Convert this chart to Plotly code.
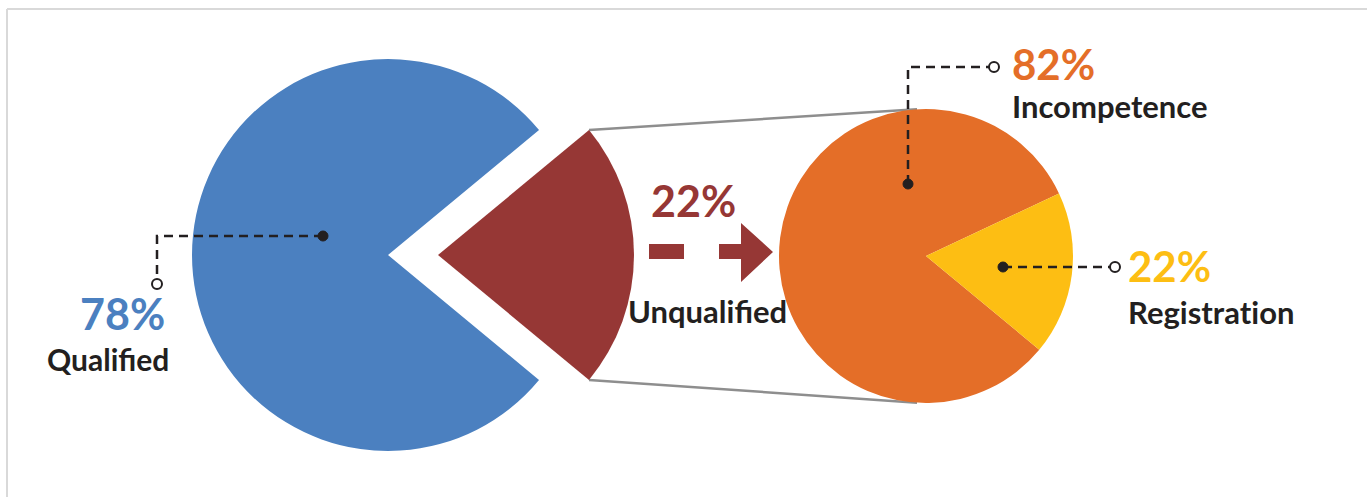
import math
import plotly.graph_objects as go

# ---------------- data ----------------
main_labels = ["Qualified", "Unqualified"]
main_values = [78, 22]
main_texts = ["78%", "22%"]

sub_labels = ["Incompetence", "Registration"]
sub_values = [82, 18]
sub_texts = ["82%", "22%"]

# ---------------- style ----------------
W, H = 1367, 497
BLUE = "#4B80C0"
RED = "#963735"
ORANGE = "#E46E28"
YELLOW = "#FDBE13"
DARK = "#231F20"
GRAY = "#8E8E8E"
FONT = "Lato"

LC = (388, 255)      # main pie centre (px)
R1 = 196
EXPLODE = 50
RC = (926, 256)      # sub pie centre (px)
R2 = 147


def dom(cx, cy, r):
    return dict(x=[(cx - r) / W, (cx + r) / W],
                y=[(H - cy - r) / H, (H - cy + r) / H])


tot = sum(main_values)
half = main_values[1] / tot * 360 / 2          # half-angle of exploded slice
rot_main = (90 - (360 - half)) % 360            # slice 2 centred at 3 o'clock
rot_sub = rot_main

fig = go.Figure()

fig.add_trace(go.Pie(values=main_values, labels=main_labels, sort=False,
                     direction="clockwise", rotation=rot_main,
                     marker=dict(colors=[BLUE, "rgba(0,0,0,0)"], line=dict(width=0)),
                     textinfo="none", hoverinfo="label+percent", showlegend=False,
                     domain=dom(LC[0], LC[1], R1)))
fig.add_trace(go.Pie(values=main_values, labels=main_labels, sort=False,
                     direction="clockwise", rotation=rot_main,
                     marker=dict(colors=["rgba(0,0,0,0)", RED], line=dict(width=0)),
                     textinfo="none", hoverinfo="label+percent", showlegend=False,
                     domain=dom(LC[0] + EXPLODE, LC[1], R1)))
fig.add_trace(go.Pie(values=sub_values, labels=sub_labels, sort=False,
                     direction="clockwise", rotation=rot_sub,
                     marker=dict(colors=[ORANGE, YELLOW], line=dict(width=0)),
                     textinfo="none", hoverinfo="label+percent", showlegend=False,
                     domain=dom(RC[0], RC[1], R2)))

# connector lines from exploded slice corners to sub pie
a = math.radians(half)
x0 = LC[0] + EXPLODE + R1 * math.cos(a)
yt = LC[1] - R1 * math.sin(a)
yb = LC[1] + R1 * math.sin(a)
b = math.radians(3.5)
x1 = RC[0] - R2 * math.sin(b)
y1t = RC[1] - R2 * math.cos(b)
y1b = RC[1] + R2 * math.cos(b)
for ya, yb_ in [(yt, y1t), (yb, y1b)]:
    fig.add_trace(go.Scatter(x=[x0, x1], y=[ya, yb_], mode="lines",
                             line=dict(color=GRAY, width=2.5), hoverinfo="skip",
                             showlegend=False))

shapes = [
    dict(type="line", xref="x", yref="y", x0=7, y0=9, x1=W + 5, y1=9,
         line=dict(color="#D9D9D9", width=2)),
    dict(type="line", xref="x", yref="y", x0=7, y0=9, x1=7, y1=H + 5,
         line=dict(color="#D9D9D9", width=2)),
    dict(type="rect", xref="x", yref="y", x0=649, x1=684, y0=244, y1=259,
         fillcolor=RED, line=dict(width=0)),
    dict(type="path", xref="x", yref="y",
         path="M719,244 L741,244 L741,223 L773,252 L741,282 L741,259 L719,259 Z",
         fillcolor=RED, line=dict(width=0)),
]

# leader lines (drawn above pies)
leaders = [
    ([323, 157, 157], [236, 236, 284]),
    ([908, 908, 994], [184, 67, 67]),
    ([1003, 1115], [267, 267]),
]
for xs, ys in leaders:
    path = "M" + " L".join(f"{x},{y}" for x, y in zip(xs, ys))
    shapes.append(dict(type="path", xref="x", yref="y", path=path, layer="above",
                       line=dict(color=DARK, width=2.5, dash="9px,6px")))
    shapes.append(dict(type="circle", xref="x", yref="y", layer="above",
                       x0=xs[0] - 5, x1=xs[0] + 5, y0=ys[0] - 5, y1=ys[0] + 5,
                       fillcolor=DARK, line=dict(color=DARK, width=1)))
    shapes.append(dict(type="circle", xref="x", yref="y", layer="above",
                       x0=xs[-1] - 5, x1=xs[-1] + 5, y0=ys[-1] - 5, y1=ys[-1] + 5,
                       fillcolor="white", line=dict(color=DARK, width=2)))


def ann(text, x, y, size, color, anchor="left"):
    return dict(text=text, x=x, y=y - 2 + 0.06 * size, xref="x", yref="y",
                xanchor=anchor, yanchor="middle", showarrow=False,
                font=dict(family=FONT, size=size, color=color, weight=700))


ZW = "\u200c"
annotations = [
    ann(main_texts[0], 122, 313, 43, BLUE, "center"),
    ann(main_labels[0], 108, 359, 30, DARK, "center"),
    ann(main_texts[1], 693, 200, 43, RED, "center"),
    ann(main_labels[1], 707, 311, 31, DARK, "center"),
    ann(sub_texts[0], 1010, 63, 42, ORANGE),
    ann(sub_labels[0], 1010, 106, 31, DARK),
    ann(sub_texts[1], 1126, 265, 42, YELLOW),
    ann(sub_labels[1].replace("ti", "t" + ZW + "i"), 1126, 312, 31, DARK),
]

fig.update_layout(
    width=W, height=H, margin=dict(l=0, r=0, t=0, b=0),
    paper_bgcolor="white", plot_bgcolor="white",
    xaxis=dict(range=[0, W], visible=False, domain=[0, 1], fixedrange=True),
    yaxis=dict(range=[H, 0], visible=False, domain=[0, 1], fixedrange=True),
    shapes=shapes, annotations=annotations, showlegend=False,
)

fig.write_html("out.html")
